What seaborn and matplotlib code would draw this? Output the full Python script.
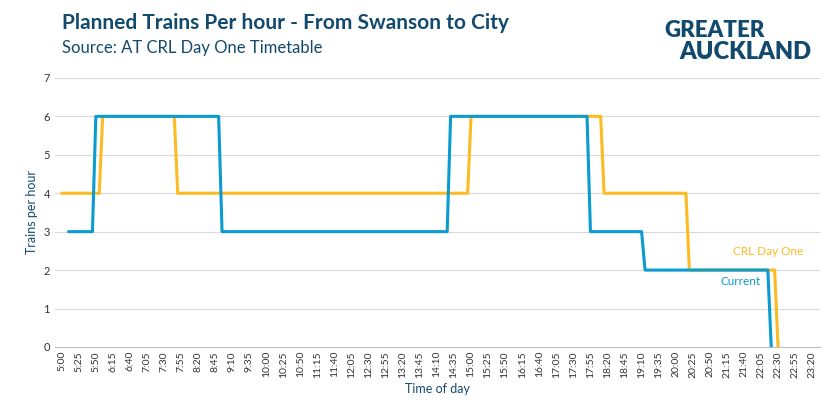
import matplotlib
matplotlib.use('Agg')
import matplotlib.pyplot as plt
import seaborn as sns
import pandas as pd

# (time, trains per hour) points of each line, times as H:MM
current_times = ['5:10', '5:45', '5:50', '8:50', '8:55', '14:25', '14:30', '17:50', '17:55',
                 '19:10', '19:15', '22:15', '22:20']
current_vals = [3, 3, 6, 6, 3, 3, 6, 6, 3, 3, 2, 2, 0]
crl_times = ['5:00', '5:55', '6:00', '7:45', '7:50', '14:55', '15:00', '18:10', '18:15',
             '20:15', '20:20', '22:25', '22:30']
crl_vals = [4, 4, 6, 6, 4, 4, 6, 6, 4, 4, 2, 2, 0]

tick_labels = []
t = 5 * 60
while t <= 23 * 60 + 20:
    tick_labels.append(f'{t // 60}:{t % 60:02d}')
    t += 25


def to_min(s):
    h, m = s.split(':')
    return int(h) * 60 + int(m) - 300


df = pd.concat([
    pd.DataFrame({'x': [to_min(s) for s in current_times], 'y': current_vals, 'Series': 'Current'}),
    pd.DataFrame({'x': [to_min(s) for s in crl_times], 'y': crl_vals, 'Series': 'CRL Day One'}),
])

blue = '#0a9bd0'
orange = '#fbbb21'
navy = '#124a6e'

sns.set_style('white')
plt.rcParams['font.family'] = ['Lato', 'DejaVu Sans']
fig = plt.figure(figsize=(8.32, 4.19), dpi=100)
ax = fig.add_axes([0.066, 0.172, 0.92, 0.642])
sns.lineplot(data=df, x='x', y='y', hue='Series', palette={'Current': blue, 'CRL Day One': orange},
             hue_order=['CRL Day One', 'Current'], linewidth=2.2, legend=False, ax=ax, sort=False)

ax.set_xlim(-10, 1112)
ax.set_ylim(0, 7)
ax.set_xticks([to_min(s) for s in tick_labels])
ax.set_xticklabels(tick_labels, rotation=90, fontsize=7.5, color='#333333')
ax.set_yticks(range(8))
ax.tick_params(axis='y', labelsize=8, colors='#333333', length=0)
ax.tick_params(axis='x', length=0, pad=3)
ax.grid(axis='y', color='#d9d9d9', linewidth=0.8)
for s in ['top', 'right', 'left']:
    ax.spines[s].set_visible(False)
ax.spines['bottom'].set_color('#bfbfbf')
ax.set_xlabel('Time of day', fontsize=9, color=navy)
ax.set_ylabel('Trains per hour', fontsize=9, color=navy)

ax.text(to_min('21:24'), 2.4, 'CRL Day One', color=orange, fontsize=8.5)
ax.text(to_min('21:06'), 1.6, 'Current', color=blue, fontsize=8.5)

fig.text(0.075, 0.945, 'Planned Trains Per hour - From Swanson to City', fontsize=15,
         fontweight='bold', color=navy, va='center')
fig.text(0.075, 0.885, 'Source: AT CRL Day One Timetable', fontsize=12, color=navy, va='center')
fig.text(0.799, 0.928, 'GREATER', fontsize=16, fontweight='heavy', color=navy, va='center')
fig.text(0.817, 0.875, 'AUCKLAND', fontsize=17, fontweight='heavy', color=navy, va='center')

plt.savefig('out.png', dpi=100)
